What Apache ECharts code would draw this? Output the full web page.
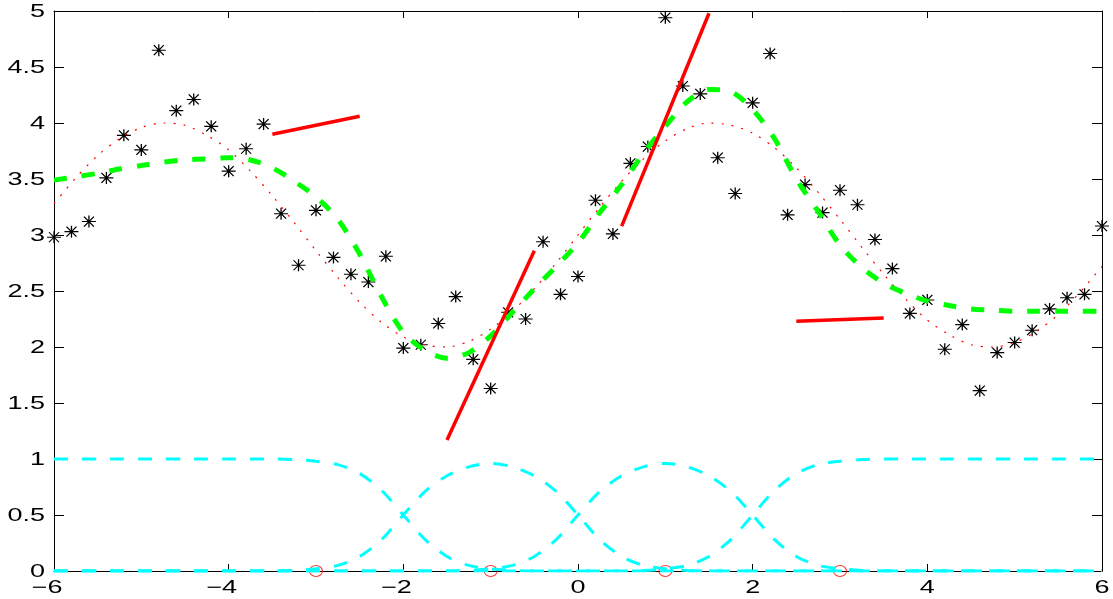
<!DOCTYPE html>
<html>
<head>
<meta charset="utf-8">
<script src="https://cdn.jsdelivr.net/npm/echarts@6/dist/echarts.min.js"></script>
<style>
html,body{margin:0;padding:0;background:#fff;}
#chart{width:1113px;height:599px;}
</style>
</head>
<body>
<div id="chart"></div>
<script>
// ---- data ----
var sampleX = [-6,-5.8,-5.6,-5.4,-5.2,-5,-4.8,-4.6,-4.4,-4.2,-4,-3.8,-3.6,-3.4,-3.2,-3,-2.8,-2.6,-2.4,-2.2,
  -2,-1.8,-1.6,-1.4,-1.2,-1,-0.8,-0.6,-0.4,-0.2,0,0.2,0.4,0.6,0.8,1,1.2,1.4,1.6,1.8,
  2,2.2,2.4,2.6,2.8,3,3.2,3.4,3.6,3.8,4,4.2,4.4,4.6,4.8,5,5.2,5.4,5.6,5.8,6];
var sampleY = [2.98,3.03,3.12,3.51,3.89,3.76,4.65,4.11,4.21,3.97,3.57,3.77,3.99,3.19,2.73,3.22,2.80,2.65,2.58,2.81,
  1.99,2.02,2.21,2.45,1.89,1.63,2.31,2.25,2.94,2.47,2.63,3.31,3.01,3.64,3.79,4.94,4.33,4.26,3.69,3.37,
  4.18,4.62,3.18,3.45,3.20,3.40,3.27,2.96,2.70,2.30,2.42,1.98,2.20,1.61,1.95,2.04,2.15,2.34,2.44,2.47,3.08];

var curveX = [-6,-5.75,-5.5,-5.25,-5,-4.75,-4.5,-4.25,-4,-3.75,-3.5,-3.25,-3,-2.75,-2.5,-2.25,-2,-1.75,-1.5,-1.25,
  -1,-0.75,-0.5,-0.25,0,0.25,0.5,0.75,1,1.25,1.5,1.75,2,2.25,2.5,2.75,3,3.25,3.5,3.75,
  4,4.25,4.5,4.75,5,5.25,5.5,5.75,6];
var trueY = [3.28,3.51,3.71,3.86,3.96,4.00,3.98,3.89,3.76,3.57,3.35,3.11,2.86,2.62,2.40,2.22,2.09,2.02,2.00,2.05,
  2.16,2.32,2.52,2.75,3.00,3.25,3.48,3.68,3.84,3.95,4.00,3.98,3.91,3.78,3.60,3.38,3.14,2.89,2.65,2.43,
  2.24,2.11,2.02,2.00,2.04,2.14,2.29,2.49,2.72];
var fitY = [3.49,3.52,3.55,3.59,3.62,3.65,3.67,3.68,3.69,3.67,3.60,3.48,3.34,3.14,2.83,2.45,2.13,1.97,1.90,1.95,
  2.10,2.31,2.52,2.72,2.93,3.20,3.45,3.73,3.97,4.19,4.30,4.28,4.12,3.86,3.50,3.21,2.91,2.71,2.57,2.48,
  2.41,2.37,2.34,2.33,2.32,2.32,2.32,2.32,2.32];
var weight1 = [1,1,1,1,1,1,1,1,1,1,1.0,0.995,0.98,0.95,0.87,0.72,0.5,0.28,0.13,0.05,
  0.02,0.005,0,0,0,0,0,0,0,0,0,0,0,0,0,0,0,0,0,0,0,0,0,0,0,0,0,0,0];
var weight2 = [0,0,0,0,0,0,0,0,0,0,0,0.005,0.02,0.05,0.13,0.28,0.5,0.71,0.85,0.93,
  0.96,0.93,0.85,0.71,0.5,0.28,0.13,0.05,0.02,0.005,0,0,0,0,0,0,0,0,0,0,0,0,0,0,0,0,0,0,0];
var weight3 = [0,0,0,0,0,0,0,0,0,0,0,0,0,0,0,0,0,0,0,0.005,
  0.02,0.05,0.13,0.28,0.5,0.71,0.85,0.93,0.96,0.93,0.85,0.71,0.5,0.28,0.13,0.05,0.02,0.005,0,0,0,0,0,0,0,0,0,0,0];
var weight4 = [0,0,0,0,0,0,0,0,0,0,0,0,0,0,0,0,0,0,0,0,
  0,0,0,0,0,0,0,0.005,0.02,0.05,0.13,0.28,0.5,0.72,0.87,0.95,0.98,0.995,1,1,1,1,1,1,1,1,1,1,1];

var centers = [-3,-1,1,3];
var localModels = [
  [[-3.5,3.90],[-2.5,4.06]],
  [[-1.5,1.17],[-0.5,2.86]],
  [[0.5,3.08],[1.5,4.98]],
  [[2.5,2.23],[3.5,2.26]]
];
var xTicks = [-6,-4,-2,0,2,4,6];
var yTicks = [0,0.5,1,1.5,2,2.5,3,3.5,4,4.5,5];
var yTickLabels = ['0','0.5','1','1.5','2','2.5','3','3.5','4','4.5','5'];

function pairs(xs, ys){ return xs.map(function(x,i){ return [x, ys[i]]; }); }

var FONT = '18px "Liberation Sans", Arial, Helvetica, sans-serif';
var STRETCH = 1.5;
var chart = echarts.init(document.getElementById('chart'), null, {renderer:'canvas'});

var series = [];
series.push({
  type:'scatter', data: pairs(sampleX, sampleY),
  symbol:'path://M7,0L7,12M0,6L14,6M2,1L12,11M2,11L12,1', symbolSize:[14,12], symbolKeepAspect:false,
  itemStyle:{color:'rgba(0,0,0,0)', borderColor:'#000', borderWidth:1.2, opacity:1},
  z:2, silent:true
});
series.push({
  type:'line', data: pairs(curveX, trueY), showSymbol:false, smooth:0.3,
  lineStyle:{color:'#ff0000', width:1.2, type:[2,8]}, z:3
});
series.push({
  type:'line', data: pairs(curveX, fitY), showSymbol:false, smooth:0.3,
  lineStyle:{color:'#00ff00', width:5, type:[13,15]}, z:4
});
localModels.forEach(function(seg){
  series.push({
    type:'line', data: seg, showSymbol:false,
    lineStyle:{color:'#ff0000', width:3.5}, z:5
  });
});
[weight1, weight2, weight3, weight4].forEach(function(w){
  series.push({
    type:'line', data: pairs(curveX, w), showSymbol:false, smooth:0.3,
    lineStyle:{color:'#00ffff', width:3, type:[14,14]}, z:7
  });
});
series.push({
  type:'scatter', data: centers.map(function(c){ return [c, 0]; }),
  symbol:'circle', symbolSize:[13,11], clip:false,
  itemStyle:{color:'rgba(0,0,0,0)', borderColor:'#ff0000', borderWidth:1}, z:6
});

function tick(len){ return {show:true, inside:true, length:len, lineStyle:{color:'#000', width:1}}; }
var lineCommon = {show:true, onZero:false, lineStyle:{color:'#000', width:1}};

chart.setOption({
  animation:false,
  backgroundColor:'#fff',
  grid:{left:54, right:11, top:11, bottom:28, containLabel:false},
  xAxis:[
    {type:'value', min:-6, max:6, interval:2, position:'bottom',
     axisLine:lineCommon, axisTick:tick(7), splitLine:{show:false}, axisLabel:{show:false}},
    {type:'value', min:-6, max:6, interval:2, position:'top',
     axisLine:lineCommon, axisTick:tick(7), splitLine:{show:false}, axisLabel:{show:false}}
  ],
  yAxis:[
    {type:'value', min:0, max:5, interval:0.5, position:'left',
     axisLine:lineCommon, axisTick:tick(10), splitLine:{show:false}, axisLabel:{show:false}},
    {type:'value', min:0, max:5, interval:0.5, position:'right',
     axisLine:lineCommon, axisTick:tick(10), splitLine:{show:false}, axisLabel:{show:false}}
  ],
  series: series
});

// Tick labels: real text, placed through the axes' own scales, stretched horizontally like the reference.
var graphics = [];
var y0 = chart.convertToPixel({yAxisIndex:0}, 0);
var xLeft = chart.convertToPixel({xAxisIndex:0}, -6);
xTicks.forEach(function(v){
  var px = chart.convertToPixel({xAxisIndex:0}, v);
  var txt = v < 0 ? '\u2212' + (-v) : String(v);
  graphics.push({
    type:'text', x: px + (v < 0 ? -7 : 0), y: y0 + 17, scaleX: STRETCH, silent:true,
    style:{text: txt, font: FONT, fill:'#000', align:'center', verticalAlign:'middle'}
  });
});
yTicks.forEach(function(v, i){
  var py = chart.convertToPixel({yAxisIndex:0}, v);
  graphics.push({
    type:'text', x: xLeft - 9, y: py + 1, scaleX: STRETCH, silent:true,
    style:{text: yTickLabels[i], font: FONT, fill:'#000', align:'right', verticalAlign:'middle'}
  });
});
chart.setOption({graphic: graphics});
</script>
</body>
</html>
